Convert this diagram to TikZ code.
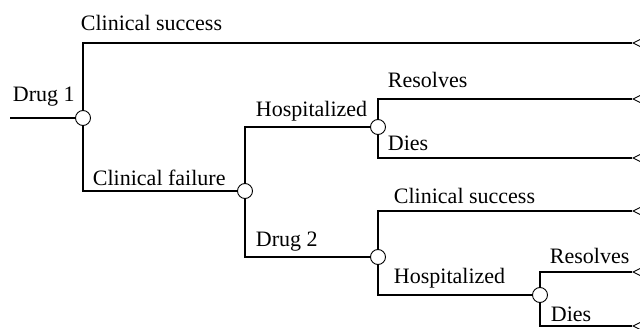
\documentclass[tikz,border=0pt]{standalone}
\usepackage{fontspec}
\setmainfont{Liberation Serif}
\usetikzlibrary{shapes.geometric}
\tikzset{
  chance/.style = {circle, draw, fill = white, line width = 0.9pt,
    minimum size = 15pt, inner sep = 0pt},
  payoff/.style = {isosceles triangle, isosceles triangle stretches, draw,
    line width = 0.9pt, shape border rotate = 180, anchor = apex,
    minimum width = 14pt, minimum height = 14pt, inner sep = 0pt},
  lbl/.style = {anchor = base west, inner sep = 0pt}
}
\begin{document}
\begin{tikzpicture}[x = 1pt, y = -1pt, line width = 1.9pt,
    font = \fontsize{22}{26}\selectfont]
  \useasboundingbox (0, 0) rectangle (640, 329);
  \clip (0, 0) rectangle (640, 329);
  % chance nodes
  \node [chance] (drugone) at (83, 118) {};
  \node [chance] (failure) at (245, 191) {};
  \node [chance] (hospone) at (378, 127) {};
  \node [chance] (drugtwo) at (378, 257) {};
  \node [chance] (hosptwo) at (540, 295) {};
  % end points
  \coordinate (start) at (10, 118);
  \node [payoff] (succone) at (632, 43) {};
  \node [payoff] (resone) at (632, 99) {};
  \node [payoff] (dieone) at (632, 158) {};
  \node [payoff] (succtwo) at (632, 211) {};
  \node [payoff] (restwo) at (632, 272) {};
  \node [payoff] (dietwo) at (632, 326) {};
  % branches
  \draw (start) -- (drugone.west);
  \draw (drugone.north) |- (succone.apex);
  \draw (drugone.south) |- (failure.west);
  \draw (failure.north) |- (hospone.west);
  \draw (failure.south) |- (drugtwo.west);
  \draw (hospone.north) |- (resone.apex);
  \draw (hospone.south) |- (dieone.apex);
  \draw (drugtwo.north) |- (succtwo.apex);
  \draw (drugtwo.south) |- (hosptwo.west);
  \draw (hosptwo.north) |- (restwo.apex);
  \draw (hosptwo.south) |- (dietwo.apex);
  % labels
  \node [lbl] (ldrugone) at (12, 102) {Drug 1};
  \node [lbl] (lsuccone) at (80, 31) {Clinical success};
  \node [lbl] (lfailure) at (92, 185) {Clinical failure};
  \node [lbl] (lhospone) at (255, 116) {Hospitalized};
  \node [lbl] (lresone) at (387, 88) {Resolves};
  \node [lbl] (ldieone) at (387, 150) {Dies};
  \node [lbl] (ldrugtwo) at (255, 246) {Drug 2};
  \node [lbl] (lsucctwo) at (393, 203) {Clinical success};
  \node [lbl] (lhosptwo) at (393, 283) {Hospitalized};
  \node [lbl] (lrestwo) at (549, 263) {Resolves};
  \node [lbl] (ldietwo) at (550, 321) {Dies};
\end{tikzpicture}
\end{document}
